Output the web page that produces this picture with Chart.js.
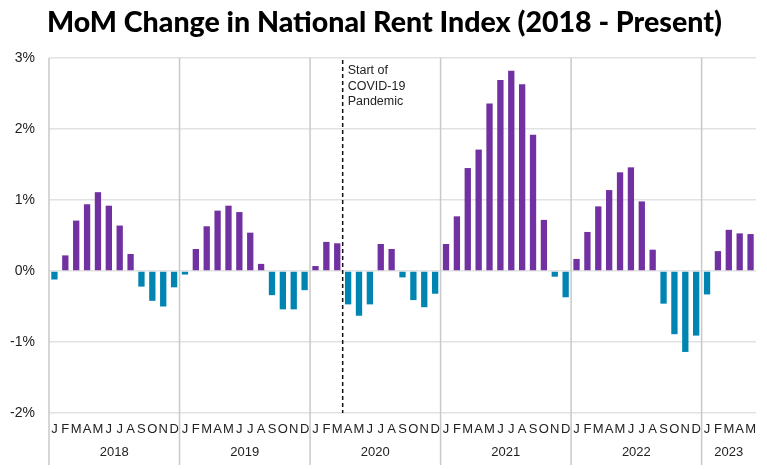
<!DOCTYPE html>
<html>
<head>
<meta charset="utf-8">
<script src="https://cdn.jsdelivr.net/npm/chart.js@4/dist/chart.umd.min.js"></script>
<style>
  html, body { margin: 0; padding: 0; background: #fff; }
  #wrap { width: 767px; height: 469px; position: relative; }
</style>
</head>
<body>
<div id="wrap"><canvas id="c" width="767" height="469"></canvas></div>
<script>
const years = ['2018', '2019', '2020', '2021', '2022', '2023'];
const monthLetters = ['J','F','M','A','M','J','J','A','S','O','N','D'];
const v2018 = [-0.12, 0.22, 0.71, 0.94, 1.11, 0.92, 0.64, 0.24, -0.22, -0.42, -0.50, -0.23];
const v2019 = [-0.05, 0.31, 0.63, 0.85, 0.92, 0.83, 0.54, 0.10, -0.34, -0.54, -0.54, -0.27];
const v2020 = [0.07, 0.41, 0.39, -0.47, -0.63, -0.47, 0.38, 0.31, -0.09, -0.41, -0.51, -0.32];
const v2021 = [0.38, 0.77, 1.45, 1.71, 2.36, 2.69, 2.82, 2.63, 1.92, 0.72, -0.08, -0.37];
const v2022 = [0.17, 0.55, 0.91, 1.14, 1.39, 1.46, 0.98, 0.30, -0.46, -0.89, -1.14, -0.91];
const v2023 = [-0.33, 0.28, 0.58, 0.53, 0.52];
const yTicks = [-2, -1, 0, 1, 2, 3];
const titleText = 'MoM Change in National Rent Index (2018 - Present)';
const covidIndex = 27; // Apr 2020: line drawn just before this bar
const covidLabel = ['Start of', 'COVID-19', 'Pandemic'];

const series = [v2018, v2019, v2020, v2021, v2022, v2023];
const values = [].concat(...series);
const labels = [];
const yearStarts = [];
series.forEach((arr, yi) => {
  yearStarts.push(labels.length);
  arr.forEach((_, mi) => labels.push(monthLetters[mi]));
});

const PURPLE = '#7131a1';
const BLUE = '#0085b2';
const TEXT = '#222222';

const overlay = {
  id: 'overlay',
  afterDatasetsDraw(chart) {
    const { ctx, chartArea, scales } = chart;
    const x = scales.x;
    const step = x.getPixelForValue(1) - x.getPixelForValue(0);
    ctx.save();
    // year separator lines
    ctx.strokeStyle = '#c9c9c9';
    ctx.lineWidth = 1.5;
    yearStarts.forEach(i => {
      const px = x.getPixelForValue(i) - step / 2;
      ctx.beginPath();
      ctx.moveTo(px, chartArea.top);
      ctx.lineTo(px, 465);
      ctx.stroke();
    });
    // year labels
    ctx.fillStyle = TEXT;
    ctx.font = '13px "Liberation Sans", Arial, sans-serif';
    ctx.textAlign = 'center';
    ctx.textBaseline = 'middle';
    years.forEach((y, k) => {
      const s = yearStarts[k];
      const n = series[k].length;
      const left = x.getPixelForValue(s) - step / 2;
      const right = x.getPixelForValue(s + n - 1) + step / 2;
      ctx.fillText(y, (left + right) / 2, 452);
    });
    // covid dashed line
    const cx = x.getPixelForValue(covidIndex) - step / 2;
    ctx.strokeStyle = '#111';
    ctx.lineWidth = 1.5;
    ctx.setLineDash([4, 3]);
    ctx.beginPath();
    ctx.moveTo(cx, chartArea.top + 2);
    ctx.lineTo(cx, chartArea.bottom);
    ctx.stroke();
    ctx.setLineDash([]);
    ctx.textAlign = 'left';
    ctx.font = '12.5px "Liberation Sans", Arial, sans-serif';
    covidLabel.forEach((t, i) => ctx.fillText(t, cx + 5, 71 + i * 15.5));
    // title
    ctx.font = '900 26px "Lato", "Inter", sans-serif';
    const w = ctx.measureText(titleText).width;
    const size = 26 * 675 / w;
    ctx.font = `900 ${size.toFixed(2)}px "Lato", "Inter", sans-serif`;
    ctx.fillStyle = '#000';
    ctx.textAlign = 'center';
    ctx.fillText(titleText, 384.5, 23);
    ctx.restore();
  }
};

new Chart(document.getElementById('c'), {
  type: 'bar',
  data: {
    labels,
    datasets: [{
      data: values,
      backgroundColor: ctx => (ctx.raw >= 0 ? PURPLE : BLUE),
      borderWidth: 0,
      barPercentage: 0.58,
      categoryPercentage: 1.0
    }]
  },
  options: {
    responsive: false,
    animation: false,
    devicePixelRatio: 1,
    layout: { padding: { top: 58, right: 11, left: 0, bottom: 0 } },
    plugins: { legend: { display: false }, title: { display: false }, tooltip: { enabled: false } },
    scales: {
      x: {
        grid: { display: false, drawTicks: false },
        border: { display: false },
        ticks: {
          autoSkip: false, maxRotation: 0, minRotation: 0,
          color: TEXT, padding: 9,
          font: { family: '"Liberation Sans", Arial, sans-serif', size: 13 }
        },
        afterFit(s) { s.height = 56; }
      },
      y: {
        min: -2, max: 3,
        afterBuildTicks(s) { s.ticks = yTicks.map(v => ({ value: v })); },
        grid: { color: '#e2e2e2', lineWidth: 1.5, drawTicks: false },
        border: { display: false },
        ticks: {
          color: TEXT, padding: 14,
          font: { family: '"Liberation Sans", Arial, sans-serif', size: 14 },
          callback: v => v + '%'
        },
        afterFit(s) { s.width = 49; }
      }
    }
  },
  plugins: [overlay]
});
</script>
</body>
</html>
